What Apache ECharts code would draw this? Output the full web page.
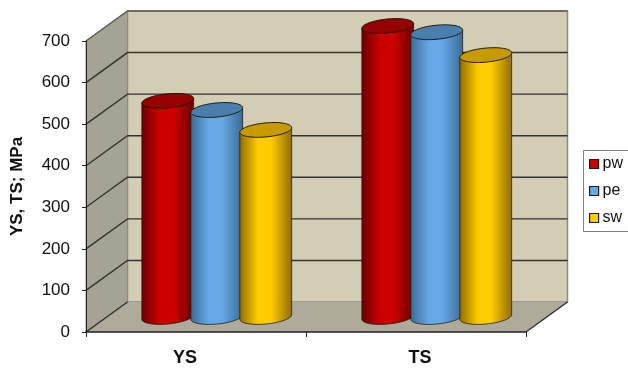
<!DOCTYPE html>
<html>
<head>
<meta charset="utf-8">
<style>html,body{margin:0;padding:0;background:#fff}#c{width:628px;height:369px}</style>
<script src="https://cdn.jsdelivr.net/npm/echarts@6/dist/echarts.min.js"></script>
</head>
<body>
<div id="c"></div>
<script>
// Yield and tensile strength per weld zone
const categories = ['YS', 'TS'];
const pw = [520, 700];
const pe = [498, 685];
const sw = [450, 630];
const yTicks = [0, 100, 200, 300, 400, 500, 600, 700];

// Depth of the box, as a shift from the front plane to the back wall
const DEPTH_X = 41.5, DEPTH_Y = -30;
const RX = 26, RY = 7, TILT = -5.5 * Math.PI / 180, STEP = 49;

const FONT = '"Liberation Sans", Arial, sans-serif';

const palette = {
  pw: { base: '#cc0000', edge: '#6a0000', cap: '#960000' },
  pe: { base: '#66a9e6', edge: '#3a6a96', cap: '#4a7eac' },
  sw: { base: '#ffcc00', edge: '#8f6c00', cap: '#c79a00' }
};

function ellipsePoint(cx, cy, t) {
  const x = RX * Math.cos(t), y = RY * Math.sin(t);
  return [cx + x * Math.cos(TILT) - y * Math.sin(TILT),
          cy + x * Math.sin(TILT) + y * Math.cos(TILT)];
}

function renderBox(params, api) {
  const cs = params.coordSys;
  const x0 = cs.x, x1 = cs.x + cs.width, yb = cs.y + cs.height;
  const children = [
    // back wall
    { type: 'polygon', shape: { points: [[x0 + DEPTH_X, cs.y + DEPTH_Y], [x1 + DEPTH_X, cs.y + DEPTH_Y], [x1 + DEPTH_X, yb + DEPTH_Y], [x0 + DEPTH_X, yb + DEPTH_Y]] },
      style: { fill: '#d3cdb5', stroke: '#8a8a82', lineWidth: 1.5 } },
    // left wall
    { type: 'polygon', shape: { points: [[x0, cs.y], [x0 + DEPTH_X, cs.y + DEPTH_Y], [x0 + DEPTH_X, yb + DEPTH_Y], [x0, yb]] },
      style: { fill: '#a5a394', stroke: '#8a8a82', lineWidth: 1 } },
    // floor
    { type: 'polygon', shape: { points: [[x0, yb], [x0 + DEPTH_X, yb + DEPTH_Y], [x1 + DEPTH_X, yb + DEPTH_Y], [x1, yb]] },
      style: { fill: '#aeab9b' } },
    // floor side edges
    { type: 'line', shape: { x1: x1, y1: yb, x2: x1 + DEPTH_X, y2: yb + DEPTH_Y }, style: { stroke: '#2a2a2a', lineWidth: 1.3 } },
    { type: 'line', shape: { x1: x0, y1: yb, x2: x0 + DEPTH_X, y2: yb + DEPTH_Y }, style: { stroke: '#2a2a2a', lineWidth: 1.3 } }
  ];
  yTicks.slice(1).forEach(function (v) {
    const y = api.coord([0, v])[1];
    children.push({ type: 'polyline', shape: { points: [[x0, y], [x0 + DEPTH_X, y + DEPTH_Y], [x1 + DEPTH_X, y + DEPTH_Y]] },
      style: { fill: 'none', stroke: v === 700 ? '#5c5c56' : '#333330', lineWidth: 1.4 } });
  });
  return { type: 'group', children: children };
}

function renderCylinder(params, api) {
  const c = palette[params.seriesName];
  const offset = (params.seriesIndex - 2) * STEP;
  const top = api.coord([api.value(0), api.value(1)]);
  const bot = api.coord([api.value(0), 0]);
  const cx = top[0] + DEPTH_X / 2 + offset;
  const topY = top[1] + DEPTH_Y / 2, botY = bot[1] + DEPTH_Y / 2;

  // angle where the outline of the tilted ellipse is vertical
  const t0 = Math.atan2(-RY * Math.sin(TILT), RX * Math.cos(TILT));
  const outline = [ellipsePoint(cx, topY, t0 + Math.PI)];
  for (let i = 40; i >= 0; i--) outline.push(ellipsePoint(cx, botY, t0 + Math.PI * i / 40));
  outline.push(ellipsePoint(cx, topY, t0));

  const cap = [];
  for (let i = 0; i < 72; i++) cap.push(ellipsePoint(cx, topY, Math.PI * 2 * i / 72));

  return { type: 'group', children: [
    { type: 'polygon', shape: { points: outline },
      style: {
        fill: new echarts.graphic.LinearGradient(0, 0, 1, 0, [
          { offset: 0, color: c.edge }, { offset: 0.35, color: c.base },
          { offset: 0.6, color: c.base }, { offset: 1, color: c.edge }
        ]),
        stroke: '#1e1a10', lineWidth: 0.8
      } },
    { type: 'polygon', shape: { points: cap }, style: { fill: c.cap, stroke: '#1e1a10', lineWidth: 1 } }
  ] };
}

function cylinderSeries(name, values) {
  return {
    type: 'custom', name: name, renderItem: renderCylinder, z: 3,
    encode: { x: 0, y: 1 },
    itemStyle: { color: palette[name].base },
    data: values.map(function (v, i) { return [i, v]; })
  };
}

const chart = echarts.init(document.getElementById('c'), null, { renderer: 'canvas' });
chart.setOption({
  animation: false,
  backgroundColor: '#ffffff',
  grid: { left: 86, right: 102, top: 41, bottom: 37, containLabel: false },
  legend: {
    orient: 'vertical', left: 589, top: 156, itemWidth: 9, itemHeight: 9, itemGap: 11, padding: 0,
    icon: 'rect', selectedMode: false, data: ['pw', 'pe', 'sw'],
    itemStyle: { borderColor: '#1c1c1c', borderWidth: 1.2 },
    textStyle: { fontFamily: FONT, fontSize: 16, color: '#111', padding: [0, 0, 0, -1] }
  },
  graphic: [{
    type: 'rect', z: -1,
    shape: { x: 583.5, y: 150.5, width: 50, height: 81 },
    style: { fill: '#fff', stroke: '#808080', lineWidth: 1 }
  }],
  xAxis: {
    type: 'category', data: categories, z: 5,
    axisLine: { lineStyle: { color: '#222', width: 1.5 } },
    axisTick: { show: true, alignWithLabel: false, length: 5, lineStyle: { color: '#222', width: 1 } },
    axisLabel: {
      margin: 17,
      formatter: function (v) { return '{' + v + '|' + v + '}'; },
      rich: {
        YS: { fontFamily: FONT, fontSize: 18, fontWeight: 'bold', color: '#111', padding: [0, 22, 0, 0] },
        TS: { fontFamily: FONT, fontSize: 18, fontWeight: 'bold', color: '#111', padding: [0, 0, 0, 8] }
      }
    }
  },
  yAxis: {
    type: 'value', min: 0, max: 700, interval: 100, z: 5,
    name: 'YS, TS; MPa', nameLocation: 'middle', nameGap: 60, nameRotate: 90,
    nameTextStyle: { fontFamily: FONT, fontSize: 17, fontWeight: 'bold', color: '#111' },
    axisLine: { show: true, lineStyle: { color: '#222', width: 1 } },
    axisTick: { show: true, length: 4, lineStyle: { color: '#222', width: 1 } },
    axisLabel: { fontFamily: FONT, fontSize: 17, color: '#111', margin: 16 },
    splitLine: { show: false }
  },
  series: [
    { type: 'custom', name: 'box', renderItem: renderBox, z: 1, silent: true, data: [[0, 0]], encode: { x: 0, y: 1 } },
    cylinderSeries('pw', pw),
    cylinderSeries('pe', pe),
    cylinderSeries('sw', sw)
  ]
});
</script>
</body>
</html>
